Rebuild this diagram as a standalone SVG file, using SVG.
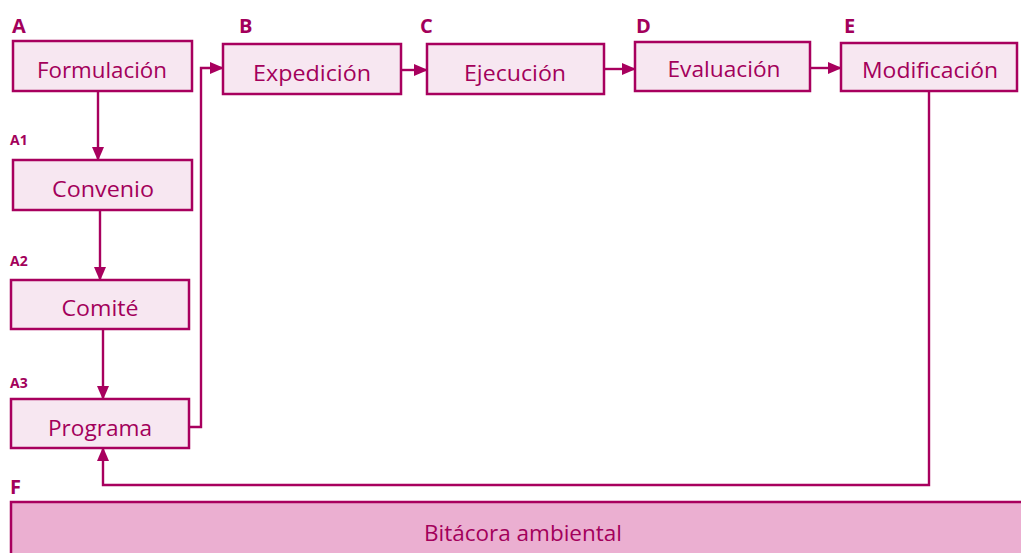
<svg xmlns="http://www.w3.org/2000/svg" width="1021" height="553" viewBox="0 0 1021 553">
<defs>
<style>
.box{fill:#f7e7f1;stroke:#a8005e;stroke-width:2.5}
.band{fill:#ebafd1;stroke:#a8005e;stroke-width:2.5}
.t{font-family:"Open Sans","Noto Sans",sans-serif;font-size:21px;fill:#a3005b;text-anchor:middle}
.lab{font-family:"Open Sans","Noto Sans",sans-serif;font-weight:700;font-size:20px;fill:#a3005b}
.sl{font-family:"Open Sans","Noto Sans",sans-serif;font-weight:700;font-size:14px;fill:#a3005b}
.c{fill:none;stroke:#a8005e;stroke-width:2.4}
</style>
<marker id="ah" viewBox="0 0 14 12" refX="13" refY="6" markerWidth="14" markerHeight="12" markerUnits="userSpaceOnUse" orient="auto">
<path d="M0,0 L14,6 L0,12 Z" fill="#a8005e"/>
</marker>
</defs>
<rect width="1021" height="553" fill="#ffffff"/>
<g id="connectors">
<path class="c" d="M98,91 V160" marker-end="url(#ah)"/>
<path class="c" d="M100,210 V280" marker-end="url(#ah)"/>
<path class="c" d="M103,329 V399" marker-end="url(#ah)"/>
<path class="c" d="M189,427 H201 V68 H223" marker-end="url(#ah)"/>
<path class="c" d="M401,70 H427" marker-end="url(#ah)"/>
<path class="c" d="M604,69 H635" marker-end="url(#ah)"/>
<path class="c" d="M810,68 H841" marker-end="url(#ah)"/>
<path class="c" d="M929,91 V485 H103 V448" marker-end="url(#ah)"/>
</g>
<g id="A">
<text class="lab" x="12" y="33">A</text>
<rect class="box" x="13" y="41" width="179" height="50"/>
<text class="t" x="102" y="78" textLength="130" lengthAdjust="spacingAndGlyphs">Formulación</text>
</g>
<g id="B">
<text class="lab" x="239" y="33">B</text>
<rect class="box" x="223" y="44" width="178" height="50"/>
<text class="t" x="312" y="81" textLength="118" lengthAdjust="spacingAndGlyphs">Expedición</text>
</g>
<g id="C">
<text class="lab" x="420" y="33">C</text>
<rect class="box" x="427" y="44" width="177" height="50"/>
<text class="t" x="515" y="81" textLength="102" lengthAdjust="spacingAndGlyphs">Ejecución</text>
</g>
<g id="D">
<text class="lab" x="636" y="33">D</text>
<rect class="box" x="635" y="42" width="175" height="49"/>
<text class="t" x="724" y="77" textLength="113" lengthAdjust="spacingAndGlyphs">Evaluación</text>
</g>
<g id="E">
<text class="lab" x="844" y="33">E</text>
<rect class="box" x="841" y="43" width="176" height="48"/>
<text class="t" x="930" y="78" textLength="136" lengthAdjust="spacingAndGlyphs">Modificación</text>
</g>
<g id="A1">
<text class="sl" x="10" y="145">A1</text>
<rect class="box" x="13" y="160" width="179" height="50"/>
<text class="t" x="103" y="197" textLength="102" lengthAdjust="spacingAndGlyphs">Convenio</text>
</g>
<g id="A2">
<text class="sl" x="10" y="266">A2</text>
<rect class="box" x="11" y="280" width="178" height="49"/>
<text class="t" x="100" y="316" textLength="77" lengthAdjust="spacingAndGlyphs">Comité</text>
</g>
<g id="A3">
<text class="sl" x="10" y="388">A3</text>
<rect class="box" x="11" y="399" width="178" height="49"/>
<text class="t" x="100" y="436" textLength="104" lengthAdjust="spacingAndGlyphs">Programa</text>
</g>
<g id="F">
<text class="lab" x="10" y="494">F</text>
<rect class="band" x="11" y="502" width="1012" height="53"/>
<text class="t" x="523" y="541" textLength="198" lengthAdjust="spacingAndGlyphs">Bitácora ambiental</text>
</g>
</svg>
